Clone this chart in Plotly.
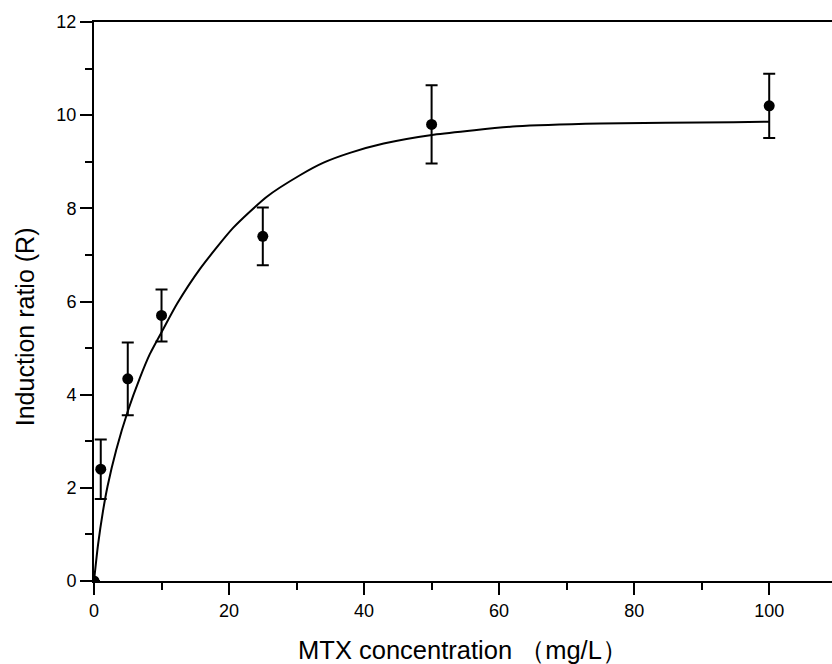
import plotly.graph_objects as go

# Measured data (MTX concentration mg/L vs induction ratio R)
conc = [0, 1, 5, 10, 25, 50, 100]
ratio = [0.0, 2.40, 4.34, 5.70, 7.40, 9.80, 10.20]
err = [0.0, 0.64, 0.78, 0.56, 0.62, 0.84, 0.69]

# Fitted curve
fit_x = [0, 0.6, 1.33, 2.0, 3.3, 5.04, 6.77, 8.3, 10.3, 12.3, 15.7, 20.6, 25.6,
         30.5, 34.0, 37.9, 42.9, 50.3, 62.6, 75, 94.7, 100]
fit_y = [0, 0.78, 1.5, 2.03, 2.82, 3.66, 4.35, 4.88, 5.42, 5.95, 6.70, 7.58, 8.25,
         8.71, 8.98, 9.19, 9.39, 9.58, 9.76, 9.82, 9.85, 9.86]

x_ticks = [0, 20, 40, 60, 80, 100]
y_ticks = [0, 2, 4, 6, 8, 10, 12]

FONT = "Liberation Sans, Arial, sans-serif"

fig = go.Figure()
fig.add_trace(go.Scatter(
    x=fit_x, y=fit_y, mode="lines",
    line=dict(color="black", width=2, shape="spline", smoothing=0.6),
    showlegend=False, hoverinfo="skip"))
fig.add_trace(go.Scatter(
    x=conc, y=ratio, mode="markers",
    marker=dict(color="black", size=11),
    error_y=dict(type="data", array=err, color="black", thickness=2, width=6),
    showlegend=False))

fig.update_layout(
    width=832, height=664,
    margin=dict(l=94, r=0, t=22, b=83),
    plot_bgcolor="white", paper_bgcolor="white",
    font=dict(family=FONT, color="black", size=18),
    xaxis=dict(
        range=[0, 109.3], tickvals=x_ticks, ticks="outside", ticklen=12, tickwidth=2,
        tickcolor="black", showline=True, linecolor="black", linewidth=2, mirror=True,
        showgrid=False, zeroline=False,
        minor=dict(dtick=10, ticks="outside", ticklen=7, tickwidth=2, tickcolor="black", showgrid=False),
        tickfont=dict(size=18, family=FONT),
        title=dict(text="MTX concentration \uff08mg/L\uff09", font=dict(size=25.5, family=FONT), standoff=24),
    ),
    yaxis=dict(
        range=[0, 12], tickvals=y_ticks, ticks="outside", ticklen=12, tickwidth=2,
        tickcolor="black", showline=True, linecolor="black", linewidth=2, mirror=False,
        showgrid=False, zeroline=False,
        minor=dict(dtick=1, ticks="outside", ticklen=7, tickwidth=2, tickcolor="black", showgrid=False),
        tickfont=dict(size=18, family=FONT),
    ),
    annotations=[dict(
        text="Induction ratio (R)", textangle=-90, showarrow=False,
        xref="paper", yref="paper", x=(25 - 94) / 738, y=(581.5 - 327.5) / 559.5,
        xanchor="center", yanchor="middle", font=dict(size=25, family=FONT, color="black"),
    )],
)

fig.write_html("out.html")
